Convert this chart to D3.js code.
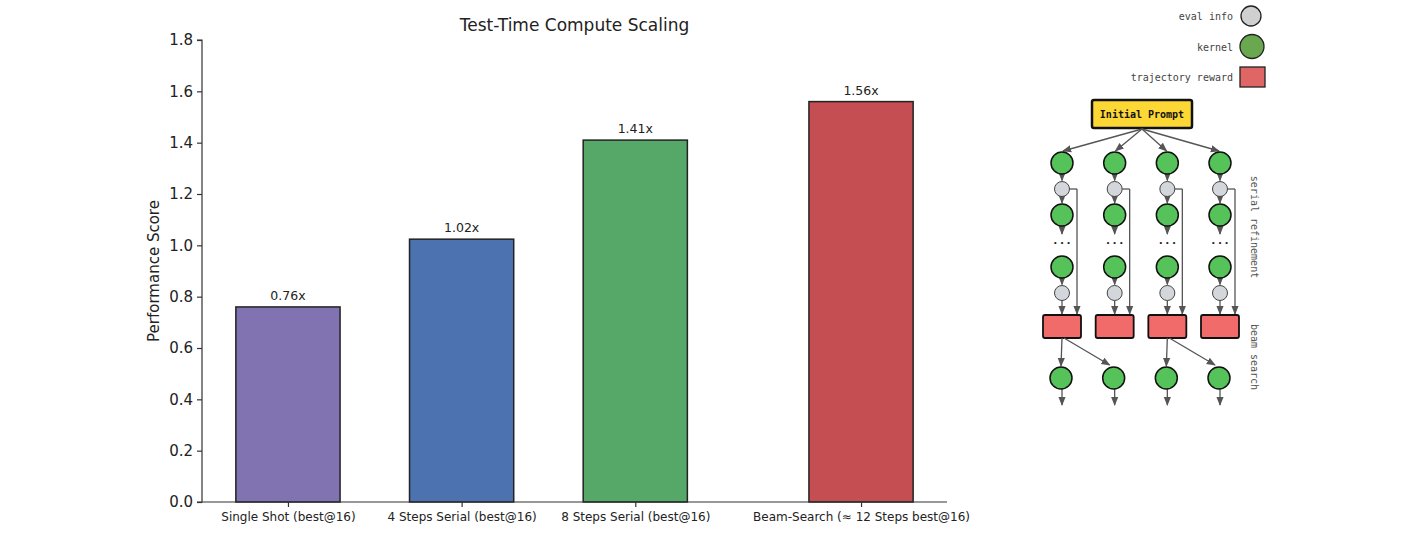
<!DOCTYPE html>
<html><head><meta charset="utf-8">
<script src="https://cdn.jsdelivr.net/npm/d3@7"></script>
<style>body{margin:0;background:#fff}svg{display:block}</style>
</head><body>
<svg id="chart" width="1404" height="540"></svg>
<script>
// ---- data ----
const categories = ["Single Shot (best@16)", "4 Steps Serial (best@16)", "8 Steps Serial (best@16)", "Beam-Search (≈ 12 Steps best@16)"];
const positions = [0, 1, 2, 3.3];
const scores = [0.76, 1.024, 1.41, 1.56];
const barLabels = ["0.76x", "1.02x", "1.41x", "1.56x"];
const barColors = ["#8172b2", "#4c72b0", "#55a868", "#c44e52"];
const yTicks = [0.0, 0.2, 0.4, 0.6, 0.8, 1.0, 1.2, 1.4, 1.6, 1.8];
const legendItems = ["eval info", "kernel", "trajectory reward"];
const diagramColumns = ["A", "B", "C", "D"];
const beamParents = ["A", "C"];

const svg = d3.select("#chart");
const m = {left: 202, right: 947, top: 40, bottom: 502};
const x = d3.scaleLinear().domain([-0.495, 3.795]).range([m.left, m.right]);
const y = d3.scaleLinear().domain([0, 1.8]).range([m.bottom, m.top]);
const bw = x(0.6) - x(0);

svg.append("text").attr("x", (m.left + m.right) / 2).attr("y", 31)
  .attr("text-anchor", "middle").attr("font-family", "DejaVu Sans").attr("font-size", 17)
  .attr("fill", "#222").text("Test-Time Compute Scaling");

// bars
svg.selectAll("rect.bar").data(scores).enter().append("rect").attr("class", "bar")
  .attr("x", (d, i) => x(positions[i]) - bw / 2).attr("width", bw)
  .attr("y", d => y(d)).attr("height", d => y(0) - y(d))
  .attr("fill", (d, i) => barColors[i]).attr("stroke", "#222").attr("stroke-width", 1.5);

svg.selectAll("text.blab").data(scores).enter().append("text").attr("class", "blab")
  .attr("x", (d, i) => x(positions[i])).attr("y", d => y(d) - 7)
  .attr("text-anchor", "middle").attr("font-family", "DejaVu Sans").attr("font-size", 12.5)
  .attr("fill", "#222").text((d, i) => barLabels[i]);

// axes
const yAxis = d3.axisLeft(y).tickValues(yTicks).tickFormat(d3.format(".1f")).tickSize(5).tickPadding(4);
const gy = svg.append("g").attr("transform", `translate(${m.left},0)`).call(yAxis);
gy.select(".domain").attr("stroke", "#333").attr("stroke-width", 1.2).attr("d", `M-5,${m.top}H0V${m.bottom}H-5`);
gy.selectAll(".tick line").attr("stroke", "#333").attr("stroke-width", 1.2);
gy.selectAll(".tick text").attr("font-family", "DejaVu Sans").attr("font-size", 15).attr("fill", "#222");

const xAxis = d3.axisBottom(x).tickValues(positions).tickFormat((d, i) => categories[i]).tickSize(5).tickPadding(5);
const gx = svg.append("g").attr("transform", `translate(0,${m.bottom})`).call(xAxis);
gx.select(".domain").attr("stroke", "#333").attr("stroke-width", 1.2).attr("d", `M${m.left},0H${m.right}`);
gx.selectAll(".tick line").attr("stroke", "#333").attr("stroke-width", 1.2);
gx.selectAll(".tick text").attr("font-family", "DejaVu Sans").attr("font-size", 12).attr("fill", "#222");

svg.append("text").attr("transform", `translate(159,${(m.top + m.bottom) / 2}) rotate(-90)`)
  .attr("text-anchor", "middle").attr("font-family", "DejaVu Sans").attr("font-size", 15)
  .attr("fill", "#222").text("Performance Score");

// ---- diagram ----
const mono = "DejaVu Sans Mono";
const defs = svg.append("defs");
defs.append("marker").attr("id", "arr").attr("viewBox", "0 0 10 10").attr("refX", 9).attr("refY", 5)
  .attr("markerWidth", 7).attr("markerHeight", 7).attr("orient", "auto-start-reverse")
  .append("path").attr("d", "M0,1L10,5L0,9Z").attr("fill", "#555");

const dg = svg.append("g");
const cx = d3.scalePoint().domain(diagramColumns).range([1062, 1220]);
const line = (x1, y1, x2, y2, arrow = true) => dg.append("line").attr("x1", x1).attr("y1", y1).attr("x2", x2).attr("y2", y2)
  .attr("stroke", "#555").attr("stroke-width", 1.3).attr("marker-end", arrow ? "url(#arr)" : null);

// legend
const ly = d3.scalePoint().domain(legendItems).range([16, 77]);
legendItems.forEach(t => {
  dg.append("text").attr("x", 1233).attr("y", ly(t) + 4).attr("text-anchor", "end")
    .attr("font-family", mono).attr("font-size", 10).attr("fill", "#444").text(t);
});
dg.append("circle").attr("cx", 1251).attr("cy", ly("eval info")).attr("r", 10).attr("fill", "#d0d0d0").attr("stroke", "#222").attr("stroke-width", 1.3);
dg.append("circle").attr("cx", 1252).attr("cy", ly("kernel")).attr("r", 12).attr("fill", "#6aa84f").attr("stroke", "#222").attr("stroke-width", 1.3);
dg.append("rect").attr("x", 1240).attr("y", ly("trajectory reward") - 10).attr("width", 25).attr("height", 20).attr("fill", "#e06666").attr("stroke", "#222").attr("stroke-width", 1.3);

// initial prompt
dg.append("rect").attr("x", 1092).attr("y", 100).attr("width", 100).attr("height", 28).attr("rx", 2)
  .attr("fill", "#fdd835").attr("stroke", "#111").attr("stroke-width", 2.5);
dg.append("text").attr("x", 1142).attr("y", 118).attr("text-anchor", "middle").attr("font-family", mono)
  .attr("font-weight", "bold").attr("font-size", 10).attr("fill", "#111").text("Initial Prompt");

const gR = 11, eR = 7.5;
const rows = {g1: 163, e1: 189, g2: 215, dots: 242, g3: 267, e2: 293, box: 326, bg: 378, end: 405};
const green = "#55c35a", gray = "#d3d6db", red = "#f26b6b";

diagramColumns.forEach(c => {
  const X = cx(c);
  // fan-in from prompt
  const dx = X - 1142, dy = rows.g1 - gR - 129, len = Math.hypot(dx, dy);
  line(1142, 129, X - dx / len * 1, rows.g1 - gR - 1);
  line(X, rows.g1 + gR, X, rows.e1 - eR - 1);
  line(X, rows.e1 + eR, X, rows.g2 - gR - 1);
  line(X, rows.g2 + gR, X, rows.dots - 8);
  line(X, rows.g3 + gR, X, rows.e2 - eR - 1);
  line(X, rows.e2 + eR, X, rows.box - 12);
  // side feedback line
  dg.append("path").attr("d", `M${X + eR},${rows.e1}H${X + 15}`).attr("stroke", "#555").attr("stroke-width", 1.3).attr("fill", "none");
  line(X + 15, rows.e1, X + 15, rows.box - 12);

  dg.append("circle").attr("cx", X).attr("cy", rows.g1).attr("r", gR).attr("fill", green).attr("stroke", "#111").attr("stroke-width", 1.5);
  dg.append("circle").attr("cx", X).attr("cy", rows.e1).attr("r", eR).attr("fill", gray).attr("stroke", "#444").attr("stroke-width", 1);
  dg.append("circle").attr("cx", X).attr("cy", rows.g2).attr("r", gR).attr("fill", green).attr("stroke", "#111").attr("stroke-width", 1.5);
  dg.append("text").attr("x", X).attr("y", rows.dots + 2).attr("text-anchor", "middle").attr("font-family", mono)
    .attr("font-size", 11).attr("font-weight", "bold").attr("fill", "#222").text("...");
  dg.append("circle").attr("cx", X).attr("cy", rows.g3).attr("r", gR).attr("fill", green).attr("stroke", "#111").attr("stroke-width", 1.5);
  dg.append("circle").attr("cx", X).attr("cy", rows.e2).attr("r", eR).attr("fill", gray).attr("stroke", "#444").attr("stroke-width", 1);
  dg.append("rect").attr("x", X - 19).attr("y", rows.box - 11).attr("width", 38).attr("height", 23).attr("rx", 2)
    .attr("fill", red).attr("stroke", "#111").attr("stroke-width", 1.8);

  // beam search children
  line(X, rows.bg + gR, X, rows.end);
});

beamParents.forEach(p => {
  const X = cx(p);
  const i = diagramColumns.indexOf(p);
  const X2 = cx(diagramColumns[i + 1]);
  line(X, rows.box + 12, X - 1, rows.bg - gR - 1);
  const dx = X2 - X, dy = rows.bg - gR - rows.box - 12;
  line(X + 2, rows.box + 12, X2 - 5, rows.bg - gR - 2);
});
diagramColumns.forEach(c => {
  dg.append("circle").attr("cx", cx(c) - 1).attr("cy", rows.bg).attr("r", gR).attr("fill", green).attr("stroke", "#111").attr("stroke-width", 1.5);
});

// side labels
dg.append("text").attr("transform", `translate(1251,${(175 + 279) / 2}) rotate(90)`).attr("text-anchor", "middle")
  .attr("font-family", mono).attr("font-size", 10).attr("fill", "#555").text("serial refinement");
dg.append("text").attr("transform", `translate(1251,${(322 + 392) / 2}) rotate(90)`).attr("text-anchor", "middle")
  .attr("font-family", mono).attr("font-size", 10).attr("fill", "#555").text("beam search");
</script>
</body></html>
